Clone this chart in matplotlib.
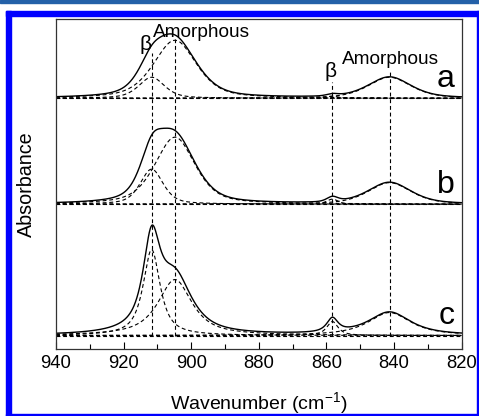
import numpy as np
import matplotlib
matplotlib.use('Agg')
import matplotlib.pyplot as plt
from matplotlib.patches import Rectangle

plt.rcParams['font.family'] = ['Liberation Sans', 'DejaVu Sans']
plt.rcParams['mathtext.fontset'] = 'custom'
plt.rcParams['mathtext.rm'] = 'Liberation Sans'
plt.rcParams['mathtext.it'] = 'Liberation Sans'

# band parameters (centre cm-1, height, FWHM cm-1)
centers = [911.7, 904.8, 858.2, 841.3]
labels = ['a', 'b', 'c']
offsets = [2.51, 1.45, 0.135]
heights_a = [0.21, 0.58, 0.02, 0.21]
heights_b = [0.35, 0.67, 0.05, 0.215]
heights_c = [0.86, 0.56, 0.14, 0.23]
widths_a = [9.0, 15.0, 4.0, 15.0]
widths_b = [8.0, 14.0, 4.0, 15.0]
widths_c = [6.0, 12.0, 4.0, 15.0]
lorentz_frac = [0.5, 0.5, 0.85]
line_tops = [2.96, 3.10, 2.67, 2.79]
xticks = [940, 920, 900, 880, 860, 840, 820]

heights = [heights_a, heights_b, heights_c]
widths = [widths_a, widths_b, widths_c]

x = np.linspace(940, 820, 1200)


def band(x, c, h, w, eta):
    g = np.exp(-4 * np.log(2) * (x - c) ** 2 / w ** 2)
    l = 1 / (1 + 4 * (x - c) ** 2 / w ** 2)
    return h * (eta * l + (1 - eta) * g)


fig = plt.figure(figsize=(4.79, 4.16), dpi=100)
ax = fig.add_axes([56 / 479, 67 / 416, 405.5 / 479, 329.7 / 416])

dash = (0, (3.5, 2.5))
for i in range(3):
    off = offsets[i]
    total = np.zeros_like(x)
    for c, h, w in zip(centers, heights[i], widths[i]):
        comp = band(x, c, h, w, lorentz_frac[i])
        total += comp
        ax.plot(x, off + comp, color='black', lw=0.8, linestyle=dash)
    ax.plot(x, off + total, color='black', lw=1.0)
    ax.axhline(off, color='black', lw=0.8, linestyle=dash)
    ax.text(822, off + 0.115, labels[i], fontsize=23, ha='right', va='baseline')

for c, top in zip(centers, line_tops):
    ax.plot([c, c], [offsets[2], top], color='black', lw=0.8, linestyle=dash)

ax.text(913.4, 3.05, r'$\beta$', fontsize=15, ha='center', va='center')
ax.text(911.3, 3.12, 'Amorphous', fontsize=13.7, ha='left', va='baseline')
ax.text(858.7, 2.78, r'$\beta$', fontsize=15, ha='center', va='center')
ax.text(855.5, 2.85, 'Amorphous', fontsize=13.7, ha='left', va='baseline')

ax.set_xlim(940, 820)
ax.set_ylim(0, 3.3)
ax.set_xticks(xticks)
ax.set_xticks(np.arange(930, 820, -20), minor=True)
ax.set_yticks([])
ax.tick_params(axis='x', which='major', direction='in', length=5, width=0.8,
               labelsize=13.3, pad=4, top=False)
ax.tick_params(axis='x', which='minor', direction='in', length=3.5, width=0.8, top=False)
for s in ax.spines.values():
    s.set_color('#333333')
    s.set_linewidth(0.9)

ax.set_xlabel('Wavenumber (cm$^{-1}$)', fontsize=14)
ax.xaxis.set_label_coords(0.5, -0.125)
ax.set_ylabel('Absorbance', fontsize=14.2)
ax.yaxis.set_label_coords(-0.05, 0.5)

# blue frame around the figure
W, H = 479.0, 416.0
blue = '#0000ff'
fig.patches.append(Rectangle((0, (H - 2.5) / H), 1, 2.5 / H, transform=fig.transFigure,
                             color='#2461a8', zorder=0))
fig.patches.append(Rectangle((6 / W, 0), 5 / W, (H - 11) / H, transform=fig.transFigure,
                             color=blue, zorder=0))
fig.patches.append(Rectangle((6 / W, (H - 16) / H), (W - 6) / W, 5 / H, transform=fig.transFigure,
                             color=blue, zorder=0))
fig.patches.append(Rectangle((476.5 / W, 0), 2.5 / W, (H - 11) / H, transform=fig.transFigure,
                             color=blue, zorder=0))
fig.patches.append(Rectangle((6 / W, 0), (W - 6) / W, 2.5 / H, transform=fig.transFigure,
                             color=blue, zorder=0))

fig.savefig('out.png', dpi=100)
